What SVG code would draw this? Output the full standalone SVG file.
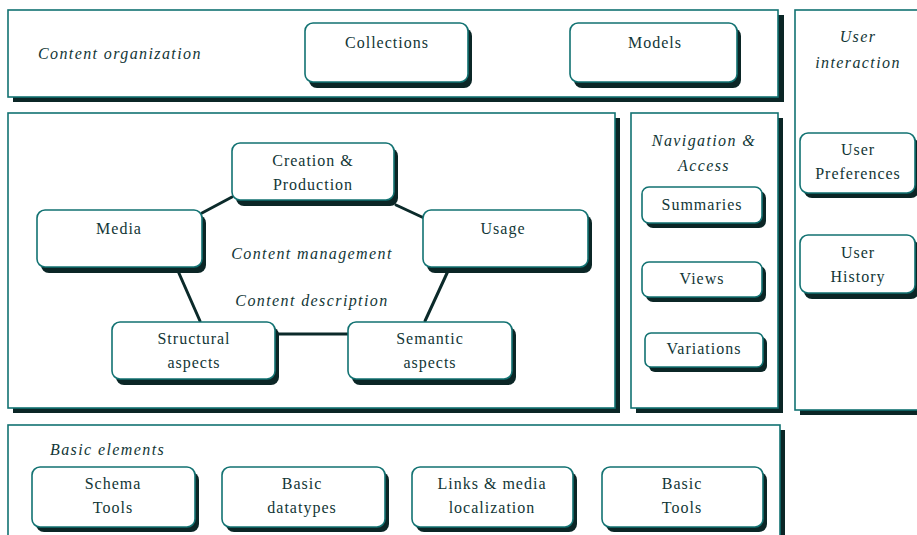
<svg xmlns="http://www.w3.org/2000/svg" width="917" height="535" viewBox="0 0 917 535">
<style>
.bg{fill:#ffffff}
.panel{fill:#ffffff;stroke:#127272;stroke-width:1.6}
.pshadow{fill:#0b2626}
.box{fill:#ffffff;stroke:#127272;stroke-width:1.6}
.bshadow{fill:#0b2626}
.t{font-family:"Liberation Serif","Times New Roman",serif;font-size:16px;fill:#123636;text-anchor:middle;letter-spacing:1px}
.it{font-family:"Liberation Serif","Times New Roman",serif;font-size:16px;font-style:italic;fill:#123636;letter-spacing:1.4px}
.c{text-anchor:middle}
.conn{stroke:#0b2a2a;stroke-width:3;fill:none;stroke-linecap:round}
</style>
<rect class="bg" x="0" y="0" width="917" height="535"/>

<!-- panels -->
<g id="panel-content-organization">
<rect class="pshadow" x="13" y="15" width="771" height="87"/>
<rect class="panel" x="8" y="10" width="770" height="87"/>
<text class="it" x="38" y="59">Content organization</text>
</g>
<g id="panel-user-interaction">
<rect class="pshadow" x="800" y="15" width="130" height="400"/>
<rect class="panel" x="795" y="10" width="130" height="400"/>
<text class="it c" x="858" y="42">User</text>
<text class="it c" x="858" y="68">interaction</text>
</g>
<g id="panel-content-management">
<rect class="pshadow" x="13" y="118" width="607" height="295"/>
<rect class="panel" x="8" y="113" width="607" height="295"/>
</g>
<g id="panel-navigation">
<rect class="pshadow" x="636" y="118" width="147" height="295"/>
<rect class="panel" x="631" y="113" width="147" height="295"/>
<text class="it c" x="704" y="146">Navigation &amp;</text>
<text class="it c" x="704" y="171">Access</text>
</g>
<g id="panel-basic-elements">
<rect class="pshadow" x="13" y="430" width="772" height="120"/>
<rect class="panel" x="8" y="425" width="772" height="120"/>
<text class="it" x="50" y="455">Basic elements</text>
</g>

<!-- connectors -->
<g id="connectors">
<line class="conn" x1="232" y1="197" x2="202" y2="213"/>
<line class="conn" x1="396" y1="205" x2="424" y2="218"/>
<line class="conn" x1="178" y1="271" x2="200" y2="321"/>
<line class="conn" x1="448" y1="271" x2="425" y2="321"/>
<line class="conn" x1="276" y1="334" x2="348" y2="334"/>
</g>

<g id="label-content-management">
<text class="it c" x="312" y="259">Content management</text>
<text class="it c" x="312" y="306">Content description</text>
</g>

<!-- nodes -->
<g id="node-collections">
<rect class="bshadow" x="309" y="28" width="163" height="60" rx="8"/>
<rect class="box" x="305" y="23" width="163" height="59" rx="8"/>
<text class="t" x="387" y="48">Collections</text>
</g>
<g id="node-models">
<rect class="bshadow" x="574" y="28" width="167" height="60" rx="8"/>
<rect class="box" x="570" y="23" width="167" height="59" rx="8"/>
<text class="t" x="655" y="48">Models</text>
</g>
<g id="node-creation">
<rect class="bshadow" x="236" y="148" width="162" height="58" rx="8"/>
<rect class="box" x="232" y="143" width="162" height="57" rx="8"/>
<text class="t" x="313" y="166">Creation &amp;</text>
<text class="t" x="313" y="190">Production</text>
</g>
<g id="node-media">
<rect class="bshadow" x="41" y="215" width="165" height="58" rx="8"/>
<rect class="box" x="37" y="210" width="165" height="57" rx="8"/>
<text class="t" x="119" y="234">Media</text>
</g>
<g id="node-usage">
<rect class="bshadow" x="427" y="215" width="165" height="58" rx="8"/>
<rect class="box" x="423" y="210" width="165" height="57" rx="8"/>
<text class="t" x="503" y="234">Usage</text>
</g>
<g id="node-structural">
<rect class="bshadow" x="116" y="327" width="163" height="58" rx="8"/>
<rect class="box" x="112" y="322" width="163" height="57" rx="8"/>
<text class="t" x="194" y="344">Structural</text>
<text class="t" x="194" y="368">aspects</text>
</g>
<g id="node-semantic">
<rect class="bshadow" x="352" y="327" width="164" height="58" rx="8"/>
<rect class="box" x="348" y="322" width="164" height="57" rx="8"/>
<text class="t" x="430" y="344">Semantic</text>
<text class="t" x="430" y="368">aspects</text>
</g>
<g id="node-summaries">
<rect class="bshadow" x="646" y="191" width="120" height="37" rx="7"/>
<rect class="box" x="642" y="187" width="120" height="36" rx="7"/>
<text class="t" x="702" y="210">Summaries</text>
</g>
<g id="node-views">
<rect class="bshadow" x="646" y="266" width="120" height="36" rx="7"/>
<rect class="box" x="642" y="262" width="120" height="35" rx="7"/>
<text class="t" x="702" y="284">Views</text>
</g>
<g id="node-variations">
<rect class="bshadow" x="649" y="337" width="118" height="35" rx="6"/>
<rect class="box" x="645" y="333" width="118" height="34" rx="6"/>
<text class="t" x="704" y="354">Variations</text>
</g>
<g id="node-user-preferences">
<rect class="bshadow" x="804" y="138" width="115" height="60" rx="8"/>
<rect class="box" x="800" y="133" width="115" height="60" rx="8"/>
<text class="t" x="858" y="155">User</text>
<text class="t" x="858" y="179">Preferences</text>
</g>
<g id="node-user-history">
<rect class="bshadow" x="804" y="240" width="115" height="59" rx="8"/>
<rect class="box" x="800" y="235" width="115" height="58" rx="8"/>
<text class="t" x="858" y="258">User</text>
<text class="t" x="858" y="282">History</text>
</g>
<g id="node-schema-tools">
<rect class="bshadow" x="36" y="472" width="163" height="60" rx="8"/>
<rect class="box" x="32" y="467" width="163" height="60" rx="8"/>
<text class="t" x="113" y="489">Schema</text>
<text class="t" x="113" y="513">Tools</text>
</g>
<g id="node-basic-datatypes">
<rect class="bshadow" x="226" y="472" width="163" height="60" rx="8"/>
<rect class="box" x="222" y="467" width="163" height="60" rx="8"/>
<text class="t" x="302" y="489">Basic</text>
<text class="t" x="302" y="513">datatypes</text>
</g>
<g id="node-links-media">
<rect class="bshadow" x="416" y="472" width="161" height="60" rx="8"/>
<rect class="box" x="412" y="467" width="161" height="60" rx="8"/>
<text class="t" x="492" y="489">Links &amp; media</text>
<text class="t" x="492" y="513">localization</text>
</g>
<g id="node-basic-tools">
<rect class="bshadow" x="606" y="472" width="161" height="60" rx="8"/>
<rect class="box" x="602" y="467" width="161" height="60" rx="8"/>
<text class="t" x="682" y="489">Basic</text>
<text class="t" x="682" y="513">Tools</text>
</g>
</svg>
